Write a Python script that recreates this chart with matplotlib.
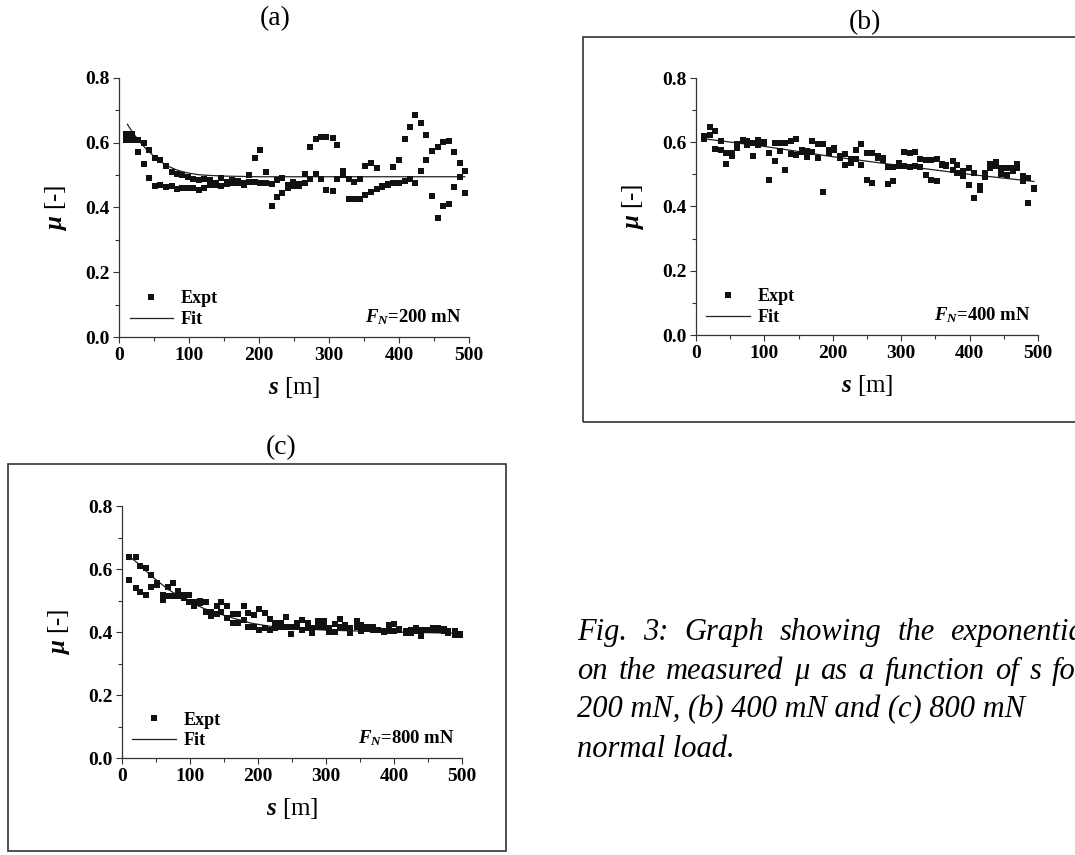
import matplotlib
matplotlib.use("Agg")
import matplotlib.pyplot as plt
from matplotlib.patches import Rectangle
from matplotlib.lines import Line2D
from matplotlib.ticker import MultipleLocator, FormatStrFormatter

plt.rcParams['font.family'] = ['Liberation Serif', 'DejaVu Serif']
plt.rcParams['mathtext.fontset'] = 'custom'
plt.rcParams['mathtext.rm'] = 'Liberation Serif'
plt.rcParams['mathtext.it'] = 'Liberation Serif:italic:bold'
plt.rcParams['mathtext.bf'] = 'Liberation Serif:bold'

# ---------------- data ----------------
# (a) F_N = 200 mN
s_a = [10, 19, 27, 35, 43, 51, 59, 67, 75, 83,
       90, 98, 106, 114, 122, 130, 138, 146, 154, 162,
       170, 178, 186, 194, 202, 210, 218, 225, 233, 241,
       249, 257, 265, 273, 281, 288, 296, 305, 312, 320,
       328, 336, 344, 352, 360, 368, 376, 384, 392, 400,
       408, 416, 423, 431, 439, 447, 455, 463, 471, 479,
       487, 494]
mu_a_run1 = [0.628, 0.626, 0.609, 0.599, 0.578, 0.554, 0.547, 0.529, 0.511, 0.503,
             0.499, 0.494, 0.488, 0.485, 0.487, 0.484, 0.476, 0.490, 0.480, 0.486,
             0.482, 0.476, 0.500, 0.552, 0.578, 0.509, 0.406, 0.432, 0.444, 0.459,
             0.466, 0.472, 0.505, 0.588, 0.611, 0.617, 0.619, 0.616, 0.593, 0.513,
             0.425, 0.425, 0.425, 0.439, 0.449, 0.457, 0.463, 0.470, 0.475, 0.477,
             0.482, 0.487, 0.477, 0.513, 0.547, 0.434, 0.368, 0.405, 0.412, 0.462,
             0.493, 0.446]
mu_a_run2 = [0.609, 0.609, 0.570, 0.533, 0.490, 0.466, 0.471, 0.462, 0.465, 0.457,
             0.461, 0.461, 0.461, 0.455, 0.461, 0.470, 0.468, 0.467, 0.474, 0.475,
             0.477, 0.471, 0.480, 0.480, 0.477, 0.475, 0.473, 0.485, 0.490, 0.470,
             0.478, 0.465, 0.477, 0.487, 0.505, 0.487, 0.454, 0.451, 0.487, 0.499,
             0.487, 0.480, 0.488, 0.528, 0.538, 0.521, 0.465, 0.472, 0.526, 0.547,
             0.612, 0.649, 0.687, 0.660, 0.624, 0.576, 0.586, 0.603, 0.604, 0.572,
             0.538, 0.512]
fit_s_a = [12, 20, 30, 40, 50, 60, 70, 80, 90, 100, 115, 130, 150, 175, 200, 300, 400, 494]
fit_mu_a = [0.657, 0.630, 0.602, 0.578, 0.558, 0.541, 0.528, 0.518, 0.511, 0.506,
            0.501, 0.499, 0.497, 0.496, 0.495, 0.495, 0.495, 0.495]

# (b) F_N = 400 mN
s_b = [11, 20, 28, 36, 44, 52, 60, 68, 75, 83,
       91, 99, 107, 115, 123, 130, 139, 146, 155, 163,
       170, 178, 186, 194, 202, 210, 218, 226, 234, 241,
       250, 258, 266, 273, 281, 288, 297, 304, 313, 320,
       327, 336, 343, 352, 359, 366, 375, 382, 390, 399,
       407, 415, 422, 430, 438, 446, 455, 463, 470, 478,
       485, 494]
mu_b_run1 = [0.621, 0.647, 0.636, 0.603, 0.566, 0.566, 0.595, 0.606, 0.603, 0.597,
             0.608, 0.600, 0.566, 0.597, 0.597, 0.599, 0.603, 0.610, 0.577, 0.573,
             0.605, 0.594, 0.594, 0.577, 0.582, 0.556, 0.563, 0.548, 0.577, 0.594,
             0.566, 0.566, 0.556, 0.551, 0.522, 0.522, 0.535, 0.571, 0.566, 0.571,
             0.548, 0.545, 0.545, 0.548, 0.532, 0.530, 0.543, 0.530, 0.509, 0.519,
             0.504, 0.464, 0.504, 0.533, 0.540, 0.519, 0.519, 0.511, 0.533, 0.494,
             0.490, 0.459]
mu_b_run2 = [0.611, 0.623, 0.580, 0.577, 0.533, 0.558, 0.582, 0.603, 0.592, 0.556,
             0.592, 0.598, 0.483, 0.542, 0.573, 0.514, 0.563, 0.561, 0.569, 0.553,
             0.571, 0.551, 0.444, 0.566, 0.575, 0.552, 0.530, 0.535, 0.548, 0.530,
             0.483, 0.473, 0.550, 0.545, 0.471, 0.480, 0.525, 0.527, 0.523, 0.525,
             0.523, 0.497, 0.483, 0.478, 0.528, 0.525, 0.514, 0.504, 0.494, 0.468,
             0.428, 0.450, 0.491, 0.519, 0.525, 0.501, 0.498, 0.519, 0.519, 0.480,
             0.412, 0.455]
fit_s_b = [11, 100, 200, 300, 400, 494]
fit_mu_b = [0.611, 0.587, 0.555, 0.527, 0.500, 0.478]

# (c) F_N = 800 mN
s_c = [11, 20, 27, 35, 43, 51, 60, 68, 75, 83,
       91, 99, 106, 115, 123, 131, 139, 146, 154, 163,
       171, 179, 186, 194, 202, 210, 218, 225, 234, 241,
       249, 257, 265, 273, 280, 288, 297, 305, 313, 320,
       328, 336, 345, 352, 360, 369, 376, 385, 392, 400,
       408, 417, 425, 433, 440, 449, 457, 465, 473, 480,
       489, 497]
mu_c_run1 = [0.639, 0.639, 0.610, 0.602, 0.581, 0.555, 0.516, 0.544, 0.555, 0.531,
             0.516, 0.516, 0.483, 0.499, 0.462, 0.452, 0.481, 0.494, 0.481, 0.457,
             0.457, 0.483, 0.460, 0.454, 0.473, 0.460, 0.441, 0.428, 0.430, 0.449,
             0.417, 0.430, 0.439, 0.428, 0.412, 0.436, 0.436, 0.399, 0.399, 0.442,
             0.423, 0.396, 0.436, 0.423, 0.417, 0.417, 0.407, 0.402, 0.423, 0.425,
             0.409, 0.396, 0.396, 0.412, 0.388, 0.407, 0.412, 0.414, 0.410, 0.402,
             0.402, 0.391]
mu_c_run2 = [0.565, 0.539, 0.526, 0.518, 0.544, 0.550, 0.502, 0.513, 0.515, 0.513,
             0.508, 0.494, 0.494, 0.492, 0.494, 0.462, 0.457, 0.463, 0.444, 0.428,
             0.428, 0.438, 0.417, 0.417, 0.407, 0.412, 0.407, 0.412, 0.417, 0.417,
             0.394, 0.417, 0.407, 0.412, 0.398, 0.417, 0.417, 0.412, 0.425, 0.417,
             0.412, 0.412, 0.417, 0.402, 0.409, 0.407, 0.405, 0.400, 0.402, 0.402,
             0.405, 0.402, 0.407, 0.402, 0.407, 0.405, 0.405, 0.407, 0.404, 0.398,
             0.389, 0.395]
fit_s_c = [11, 25, 43, 68, 92, 120, 141, 165, 190, 215, 239, 300, 400, 494]
fit_mu_c = [0.640, 0.615, 0.578, 0.535, 0.503, 0.475, 0.459, 0.443, 0.428, 0.419,
            0.413, 0.406, 0.400, 0.396]

panel_titles = ["(a)", "(b)", "(c)"]
loads = ["200", "400", "800"]

# caption: the first two lines are set justified, the last two ragged
caption_justified = [
    "Fig. 3: Graph showing the exponential fit",
    "on the measured \u03bc as a function of s for (a)",
]
caption_ragged = [
    "200 mN, (b) 400 mN and (c) 800 mN",
    "normal load.",
]

# ---------------- figure ----------------
W, H = 1075, 855
fig = plt.figure(figsize=(W / 100, H / 100), dpi=100)
renderer = fig.canvas.get_renderer()


def px_axes(left, top, right, bottom):
    return fig.add_axes([left / W, 1 - bottom / H, (right - left) / W, (bottom - top) / H])


def fig_xy(x, y):
    return x / W, 1 - y / H


FRAME = '#333333'
INK = '#111111'


def draw_panel(ax, s, run1, run2, fit_s, fit_mu, load):
    ax.plot(s, run1, ls='none', marker='s', ms=4.0, mew=0, color=INK, zorder=3)
    ax.plot(s, run2, ls='none', marker='s', ms=4.0, mew=0, color=INK, zorder=3)
    ax.plot(fit_s, fit_mu, '-', color='#222222', lw=0.9, zorder=2)

    ax.set_xlim(0, 500)
    ax.set_ylim(0, 0.8)
    ax.xaxis.set_major_locator(MultipleLocator(100))
    ax.xaxis.set_minor_locator(MultipleLocator(50))
    ax.yaxis.set_major_locator(MultipleLocator(0.2))
    ax.yaxis.set_minor_locator(MultipleLocator(0.1))
    ax.yaxis.set_major_formatter(FormatStrFormatter('%.1f'))

    for side in ('top', 'right'):
        ax.spines[side].set_visible(False)
    for side in ('left', 'bottom'):
        ax.spines[side].set_color(FRAME)
        ax.spines[side].set_linewidth(0.9)

    ax.tick_params(which='major', direction='out', length=4.5, width=0.8,
                   color=FRAME, labelsize=14, pad=2.5)
    ax.tick_params(which='minor', direction='out', length=3, width=0.8, color=FRAME)
    for lab in ax.get_xticklabels() + ax.get_yticklabels():
        lab.set_fontweight('bold')

    ax.set_xlabel('$s$ [m]', fontsize=18)
    ax.set_ylabel(r'$\mu$ [-]', fontsize=18)
    bb = ax.get_position()
    w_px, h_px = bb.width * W, bb.height * H
    ax.xaxis.set_label_coords(0.5, -38 / h_px)
    ax.yaxis.set_label_coords(-50 / w_px, 0.5)

    handles = [Line2D([], [], ls='none', marker='s', ms=4.5, mew=0, color=INK),
               Line2D([], [], color='#222222', lw=0.9)]
    ax.legend(handles, ['Expt', 'Fit'], loc='lower left', bbox_to_anchor=(0.03, 0.035),
              frameon=False, prop={'weight': 'bold', 'size': 13},
              handlelength=2.4, handletextpad=0.45, labelspacing=0.2,
              borderpad=0, borderaxespad=0)
    ax.text(0.978, 0.078, '$F_N$=' + load + ' mN', transform=ax.transAxes,
            ha='right', va='center', fontsize=13.5, fontweight='bold')


ax_a = px_axes(119, 78, 469, 337)
ax_b = px_axes(696, 78, 1038, 335)
ax_c = px_axes(122, 506, 462, 758)

draw_panel(ax_a, s_a, mu_a_run1, mu_a_run2, fit_s_a, fit_mu_a, loads[0])
draw_panel(ax_b, s_b, mu_b_run1, mu_b_run2, fit_s_b, fit_mu_b, loads[1])
draw_panel(ax_c, s_c, mu_c_run1, mu_c_run2, fit_s_c, fit_mu_c, loads[2])

# panel frames for (b) and (c)
for (l, t, r, b) in [(583, 37, 1090, 422), (8, 464, 506, 851)]:
    x0, y1 = fig_xy(l, t)
    x1, y0 = fig_xy(r, b)
    fig.patches.append(Rectangle((x0, y0), x1 - x0, y1 - y0, transform=fig.transFigure,
                                 fill=False, edgecolor=FRAME, lw=1.2))

# panel letters
for txt, (x, y) in zip(panel_titles, [(275, 19), (865, 23), (281, 448)]):
    fx, fy = fig_xy(x, y)
    fig.text(fx, fy, txt, ha='center', va='center', fontsize=20)

# caption
CAP_LEFT, CAP_RIGHT, CAP_TOP, CAP_STEP = 577, 1134, 632, 39
cap_style = dict(ha='left', va='center', fontsize=22, style='italic')


def justified_line(text, y_px):
    words = text.split(' ')
    items = [fig.text(0, fig_xy(0, y_px)[1], w, **cap_style) for w in words]
    widths = [t.get_window_extent(renderer).width for t in items]
    gap = (CAP_RIGHT - CAP_LEFT - sum(widths)) / (len(words) - 1)
    x = CAP_LEFT
    for t, w in zip(items, widths):
        t.set_x(x / W)
        x += w + gap


for i, line in enumerate(caption_justified):
    justified_line(line, CAP_TOP + CAP_STEP * i)
for j, line in enumerate(caption_ragged):
    fx, fy = fig_xy(CAP_LEFT, CAP_TOP + CAP_STEP * (len(caption_justified) + j))
    fig.text(fx, fy, line, **cap_style)

fig.savefig('out.png', dpi=100)
